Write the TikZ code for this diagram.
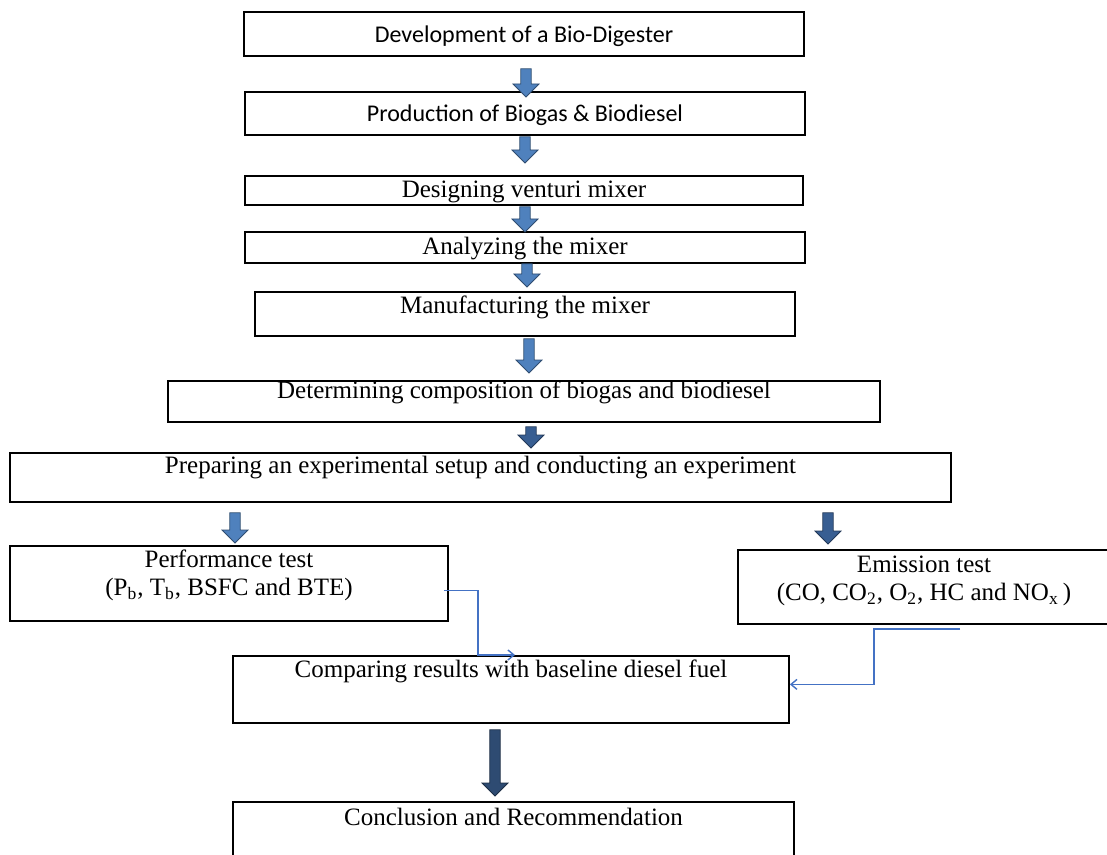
\documentclass[tikz,border=0pt]{standalone}
\usepackage{fontspec}
\setmainfont{Liberation Serif}
\newfontfamily\carlito{Carlito}
\usetikzlibrary{arrows.meta}
\usetikzlibrary{calc}
\definecolor{stepblue}{RGB}{79,129,189}
\definecolor{deepblue}{RGB}{56,94,146}
\definecolor{navyblue}{RGB}{46,75,114}
\definecolor{linkblue}{RGB}{68,114,196}
\tikzset{every node/.style={inner sep=0pt},
box/.style={
draw,
line width=0.9pt,
anchor=north,
align=center,
font=\fontsize{12.5}{14}\selectfont},
sansbox/.style={
box,
font=\carlito\fontsize{12}{14}\selectfont},
flow/.style={
draw=#1!60!black,
fill=#1,
line width=0.4pt,
to path={let \p1=(\tikztostart), \p2=(\tikztotarget) in
({\x1-2.6pt},\y1) -- ({\x1-2.6pt},{\y2+6.5pt}) -- ({\x1-6.5pt},{\y2+6.5pt}) -- (\x1,\y2)
-- ({\x1+6.5pt},{\y2+6.5pt}) -- ({\x1+2.6pt},{\y2+6.5pt}) -- ({\x1+2.6pt},\y1) -- cycle}},
flow/.default=stepblue,
link/.style={
draw=linkblue,
line width=0.7pt,
-{Straight Barb[length=3pt,width=5pt]}}}

\begin{document}
\begin{tikzpicture}[x=0.5pt, y=-0.5pt]
\useasboundingbox (0,0) rectangle (1107,855);
\clip (0,0) rectangle (1107,855);
\node[sansbox, minimum width=280pt, text height=15.5pt, text depth=6.5pt] (dev) at (524,11) {Development of a Bio-Digester};
\node[sansbox, minimum width=280pt, text height=15pt, text depth=6.5pt] (prod) at (525,91) {Production of Biogas \& Biodiesel};
\node[box, minimum width=279pt, text height=11pt, text depth=3.5pt] (venturi) at (524,175) {Designing venturi mixer};
\node[box, minimum width=280pt, text height=11.5pt, text depth=4pt] (analyze) at (525,231) {Analyzing the mixer};
\node[box, minimum width=270pt, text height=11pt, text depth=11pt] (manuf) at (525,291) {Manufacturing the mixer};
\node[box, minimum width=356pt, text height=9pt, text depth=11.5pt] (determ) at (524,380) {Determining composition of biogas and biodiesel};
\node[box, minimum width=470.5pt, text height=10.5pt, text depth=14pt] (setup) at (480.5,452) {Preparing an experimental setup and conducting an experiment};
\node[box, minimum width=219pt, text height=25pt, text depth=12.5pt] (perf) at (229,545) {Performance test\\(P\textsubscript{b}, T\textsubscript{b}, BSFC and BTE)};
\node[box, minimum width=186pt, text height=25.5pt, text depth=11.5pt] (emis) at (924,549) {Emission test\\(CO, CO\textsubscript{2}, O\textsubscript{2}, HC and NO\textsubscript{x}\,)};
\node[box, minimum width=278pt, text height=11pt, text depth=22.5pt] (compare) at (511,655) {Comparing results with baseline diesel fuel};
\node[box, minimum width=280.5pt, text height=12pt, text depth=30pt] (concl) at (513.5,801) {Conclusion and Recommendation};
\draw[flow] ([shift={(2,12)}]dev.south) to ([shift={(0,6)}]prod.north);
\draw[flow] ([shift={(0,1)}]prod.south) to ([shift={(0,-12)}]venturi.north);
\draw[flow] ([shift={(1,1)}]venturi.south) to ([shift={(0,1)}]analyze.north);
\draw[flow] ([shift={(2,0)}]analyze.south) to ([shift={(0,-4)}]manuf.north);
\draw[flow] ([shift={(4,2)}]manuf.south) to ([shift={(0,-7)}]determ.north);
\draw[flow=deepblue] ([shift={(7,4)}]determ.south) to ([shift={(0,-4)}]setup.north);
\draw[flow] ([shift={(-245.5,10)}]setup.south) to ([shift={(0,-2)}]perf.north);
\draw[flow=deepblue] ([shift={(347.5,10)}]setup.south) to ([shift={(0,-5)}]emis.north);
\draw[flow=navyblue] ([shift={(-16,6)}]compare.south) to ([shift={(0,-5)}]concl.north);
\draw[link] ([shift={(-5,7)}]perf.east) -| ([xshift=-16.5pt]compare.north) -- ([xshift=2pt]compare.north);
\draw[link] ([shift={(36,4)}]emis.south) -- ++(-86,0) |- ([yshift=2.5pt]compare.east);
\end{tikzpicture}
\end{document}
